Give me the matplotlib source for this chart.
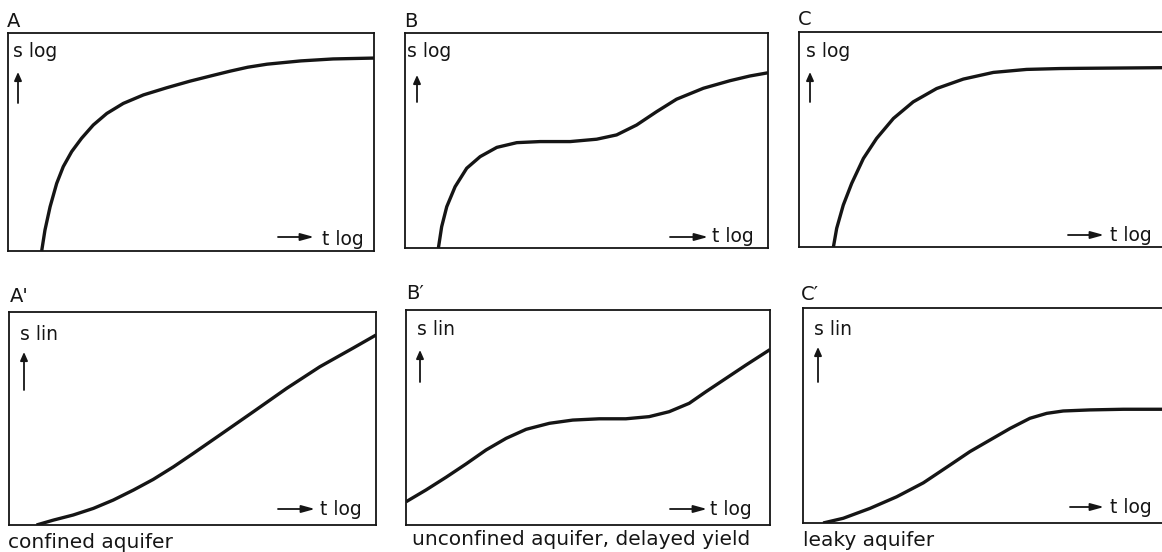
import matplotlib
matplotlib.use("Agg")
import matplotlib.pyplot as plt
from matplotlib.patches import FancyArrowPatch

W, H = 1162, 552

# ---- data (fractions of each box) ----
a_t = [0.092, 0.101, 0.115, 0.133, 0.151, 0.174, 0.201, 0.233, 0.270, 0.315, 0.370,
       0.434, 0.497, 0.561, 0.607, 0.655, 0.708, 0.800, 0.888, 1.0]
a_s = [0.000, 0.096, 0.203, 0.310, 0.387, 0.456, 0.517, 0.578, 0.631, 0.677, 0.716,
       0.749, 0.779, 0.806, 0.825, 0.843, 0.857, 0.872, 0.881, 0.885]

b_t = [0.092, 0.101, 0.115, 0.138, 0.170, 0.207, 0.253, 0.308, 0.372, 0.455, 0.528,
       0.583, 0.638, 0.693, 0.748, 0.822, 0.895, 0.950, 1.0]
b_s = [0.000, 0.099, 0.192, 0.285, 0.371, 0.425, 0.468, 0.490, 0.495, 0.495, 0.506,
       0.526, 0.572, 0.634, 0.692, 0.743, 0.778, 0.800, 0.815]

c_t = [0.094, 0.103, 0.121, 0.144, 0.176, 0.212, 0.258, 0.312, 0.376, 0.449, 0.531,
       0.622, 0.713, 0.768, 0.992, 1.0]
c_s = [0.000, 0.087, 0.195, 0.296, 0.412, 0.505, 0.598, 0.675, 0.737, 0.781, 0.812,
       0.826, 0.830, 0.831, 0.834, 0.834]

a2_t = [0.075, 0.121, 0.175, 0.230, 0.284, 0.339, 0.393, 0.448, 0.502, 0.575, 0.666,
        0.757, 0.847, 0.938, 1.0]
a2_s = [0.000, 0.023, 0.047, 0.078, 0.117, 0.164, 0.214, 0.273, 0.336, 0.423, 0.532,
        0.642, 0.743, 0.831, 0.892]

b2_t = [0.0, 0.055, 0.110, 0.165, 0.220, 0.275, 0.330, 0.394, 0.458, 0.531, 0.604,
        0.668, 0.723, 0.778, 0.824, 0.879, 0.934, 1.0]
b2_s = [0.108, 0.163, 0.222, 0.284, 0.349, 0.403, 0.445, 0.473, 0.488, 0.494, 0.494,
        0.504, 0.527, 0.566, 0.620, 0.682, 0.744, 0.816]

c2_t = [0.055, 0.110, 0.183, 0.256, 0.329, 0.402, 0.456, 0.511, 0.566, 0.620, 0.666,
        0.711, 0.784, 0.875, 1.0]
c2_s = [0.000, 0.022, 0.068, 0.122, 0.187, 0.270, 0.332, 0.386, 0.440, 0.487, 0.510,
        0.521, 0.526, 0.529, 0.529]

panel_labels = ["A", "B", "C", "A'", "B\u2032", "C\u2032"]
y_labels = ["s log", "s log", "s log", "s lin", "s lin", "s lin"]
x_label = "t log"
captions = ["confined aquifer", "unconfined aquifer, delayed yield", "leaky aquifer"]

# ---- layout (pixels) ----
boxes = [(8, 33, 374, 251), (405, 33, 768, 248), (799, 32, 1165, 247),
         (9, 312, 376, 525), (406, 310, 770, 525), (803, 308, 1169, 523)]
label_pos = [(7, 27), (404, 27), (798, 25), (10, 302), (406, 299), (801, 300)]
ylab_pos = [(13, 57), (407, 57), (806, 57), (20, 340), (417, 335), (814, 335)]
up_arrows = [(18, 103, 72), (417, 102, 75), (810, 102, 72), (24, 390, 352), (420, 382, 350), (818, 382, 347)]
right_arrows = [(278, 314, 237), (670, 708, 237), (1068, 1104, 235), (278, 315, 509), (670, 707, 509), (1070, 1104, 507)]
xlab_pos = [(322, 245), (712, 242), (1110, 241), (320, 515), (710, 515), (1110, 513)]
caption_pos = [(8, 548), (412, 545), (803, 546)]

series = [(a_t, a_s), (b_t, b_s), (c_t, c_s), (a2_t, a2_s), (b2_t, b2_s), (c2_t, c2_s)]

fig = plt.figure(figsize=(W / 100, H / 100), dpi=100)
fig.patch.set_facecolor("white")
ink = "#151515"

def fx(x):
    return x / W

def fy(y):
    return 1 - y / H

for i, (x0, y0, x1, y1) in enumerate(boxes):
    ax = fig.add_axes([fx(x0), fy(y1), (x1 - x0) / W, (y1 - y0) / H])
    ax.set_xlim(0, 1)
    ax.set_ylim(0, 1)
    ax.set_xticks([])
    ax.set_yticks([])
    for sp in ax.spines.values():
        sp.set_linewidth(1.3)
        sp.set_color(ink)
    t, s = series[i]
    ax.plot(t, s, color=ink, lw=2.4, solid_capstyle="butt", solid_joinstyle="round")

    lx, ly = label_pos[i]
    fig.text(fx(lx), fy(ly), panel_labels[i], fontsize=14, color=ink, va="baseline", ha="left")
    yx, yy = ylab_pos[i]
    fig.text(fx(yx), fy(yy), y_labels[i], fontsize=13.5, color=ink, va="baseline", ha="left")
    ux, uy0, uy1 = up_arrows[i]
    fig.add_artist(FancyArrowPatch(
        (fx(ux), fy(uy0)), (fx(ux), fy(uy1)), transform=fig.transFigure,
        arrowstyle="-|>,head_length=5,head_width=2.2", color=ink, lw=1.3,
        shrinkA=0, shrinkB=0))
    rx0, rx1, ry = right_arrows[i]
    fig.add_artist(FancyArrowPatch(
        (fx(rx0), fy(ry)), (fx(rx1), fy(ry)), transform=fig.transFigure,
        arrowstyle="-|>,head_length=8,head_width=2.2", color=ink, lw=1.3,
        shrinkA=0, shrinkB=0))
    xx, xy = xlab_pos[i]
    fig.text(fx(xx), fy(xy), x_label, fontsize=13.5, color=ink, va="baseline", ha="left")

for cap, (cx, cy) in zip(captions, caption_pos):
    fig.text(fx(cx), fy(cy), cap, fontsize=14.5, color=ink, va="baseline", ha="left")

fig.savefig("out.png", dpi=100, facecolor="white")
